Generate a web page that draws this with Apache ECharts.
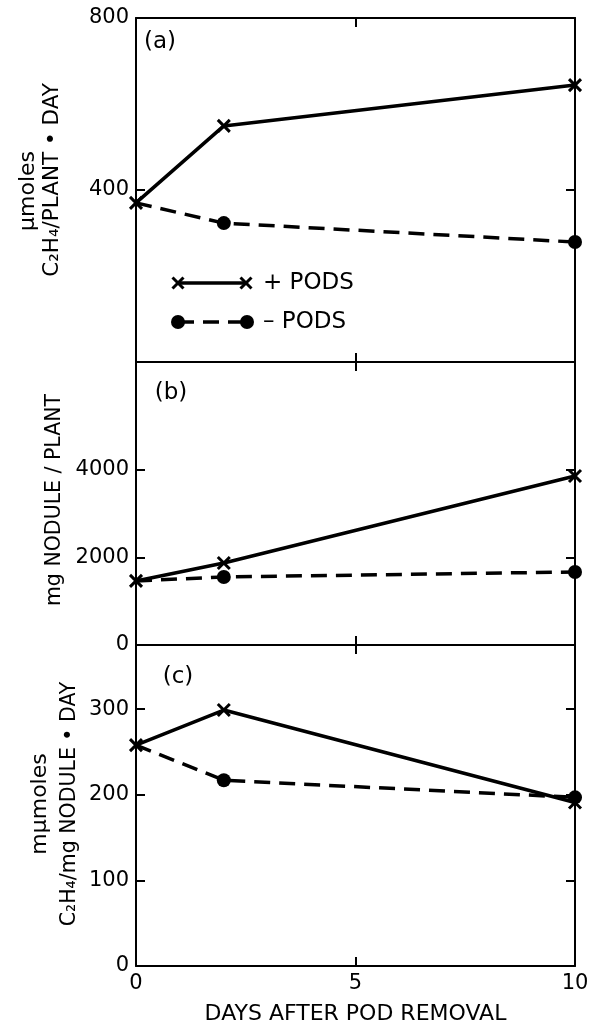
<!DOCTYPE html>
<html>
<head>
<meta charset="utf-8">
<script src="https://cdn.jsdelivr.net/npm/echarts@6/dist/echarts.min.js"></script>
<style>
html,body{margin:0;padding:0;background:#fff;}
#chart{width:590px;height:1025px;}
</style>
</head>
<body>
<div id="chart"></div>
<script>
// ---- data ----
var days = [0, 2, 10];
var aPlus = [370, 549, 644];
var aMinus = [370, 323, 279];
var bPlus = [1465, 1875, 3865];
var bMinus = [1465, 1555, 1670];
var cPlus = [258, 299, 191];
var cMinus = [258, 217, 197];
var xTicks = [0, 5, 10];
var aTicks = [400, 800];
var bTicks = [0, 2000, 4000];
var cTicks = [0, 100, 200, 300];
var seriesNames = ['+ PODS', '\u2013 PODS'];

var FONT = 'DejaVu Sans';
var X_PATH = 'path://M0,0L10,10M0,10L10,0';

function pts(vals, hideFirst) {
  return vals.map(function (v, i) {
    var d = { value: [days[i], v] };
    if (hideFirst && i === 0) d.symbol = 'none';
    return d;
  });
}

var grids = [
  { left: 136, right: 15, top: 18, height: 344, outerBoundsMode: 'none', containLabel: false },
  { left: 136, right: 15, top: 362, height: 283, outerBoundsMode: 'none', containLabel: false },
  { left: 136, right: 15, top: 645, height: 321, outerBoundsMode: 'none', containLabel: false }
];
var yCfg = [
  { min: 0, max: 800, ticks: aTicks },
  { min: 0, max: 6470, ticks: bTicks },
  { min: 0, max: 375, ticks: cTicks }
];
var plusData = [aPlus, bPlus, cPlus];
var minusData = [aMinus, bMinus, cMinus];

var axisLine = { show: true, onZero: false, lineStyle: { color: '#000', width: 2 } };
var tickStyle = { color: '#000', width: 2 };
function plain(v) { return String(v); }

var xAxes = [], yAxes = [], series = [];
for (var g = 0; g < 3; g++) {
  xAxes.push({
    type: 'value', gridIndex: g, position: 'bottom', min: 0, max: 10, interval: 5,
    axisLine: axisLine,
    axisTick: { show: true, inside: true, length: 9, lineStyle: tickStyle },
    axisLabel: { show: g === 2, color: '#000', fontFamily: FONT, fontSize: 21, margin: 7, formatter: plain },
    splitLine: { show: false },
    name: g === 2 ? 'DAYS AFTER POD REMOVAL' : '',
    nameLocation: 'middle', nameGap: 37, nameMoveOverlap: false,
    nameTextStyle: { color: '#000', fontFamily: FONT, fontSize: 22 }
  });
  xAxes.push({
    type: 'value', gridIndex: g, position: 'top', min: 0, max: 10, interval: 5,
    axisLine: axisLine,
    axisTick: { show: true, inside: true, length: 9, lineStyle: tickStyle },
    axisLabel: { show: false },
    splitLine: { show: false }
  });
  var yc = yCfg[g];
  yAxes.push({
    type: 'value', gridIndex: g, position: 'left', min: yc.min, max: yc.max,
    axisLine: axisLine,
    axisTick: { show: true, inside: true, length: 9, lineStyle: tickStyle, customValues: yc.ticks },
    axisLabel: { show: true, color: '#000', fontFamily: FONT, fontSize: 21, margin: 7, customValues: yc.ticks, formatter: plain },
    splitLine: { show: false }
  });
  yAxes.push({
    type: 'value', gridIndex: g, position: 'right', min: yc.min, max: yc.max,
    axisLine: axisLine,
    axisTick: { show: true, inside: true, length: 9, lineStyle: tickStyle, customValues: yc.ticks },
    axisLabel: { show: false },
    splitLine: { show: false }
  });
  series.push({
    name: seriesNames[1], type: 'line', xAxisIndex: g * 2, yAxisIndex: g * 2,
    data: pts(minusData[g], true),
    symbol: 'circle', symbolSize: 14, showAllSymbol: true,
    lineStyle: { color: '#000', width: 3.5, type: [16, 9] },
    itemStyle: { color: '#000', borderWidth: 0 },
    z: 3, animation: false, silent: true
  });
  series.push({
    name: seriesNames[0], type: 'line', xAxisIndex: g * 2, yAxisIndex: g * 2,
    data: pts(plusData[g], false),
    symbol: X_PATH, symbolSize: 12, showAllSymbol: true,
    lineStyle: { color: '#000', width: 3.5 },
    itemStyle: { color: '#000', borderColor: '#000', borderWidth: 3 },
    z: 4, animation: false, silent: true
  });
}

function txt(text, x, y, size, rot) {
  return {
    type: 'text', x: x, y: y, rotation: rot ? Math.PI / 2 : 0,
    style: { text: text, x: 0, y: 0, align: 'center', verticalAlign: 'middle',
      fill: '#000', font: size + 'px "' + FONT + '"' }
  };
}
function xMark(cx, cy, r) {
  return [
    { type: 'line', shape: { x1: cx - r, y1: cy - r, x2: cx + r, y2: cy + r }, style: { stroke: '#000', lineWidth: 3 } },
    { type: 'line', shape: { x1: cx - r, y1: cy + r, x2: cx + r, y2: cy - r }, style: { stroke: '#000', lineWidth: 3 } }
  ];
}

var graphics = [
  txt('(a)', 160, 42, 23),
  txt('(b)', 171, 393, 23),
  txt('(c)', 178, 677, 23),
  txt('\u03bcmoles', 28, 191, 22, true),
  txt('C\u2082H\u2084/PLANT \u2022 DAY', 52, 180, 21.5, true),
  txt('mg NODULE / PLANT', 55, 500, 20.5, true),
  txt('m\u03bcmoles', 40, 804, 22, true),
  txt('C\u2082H\u2084/mg NODULE \u2022 DAY', 70, 804, 20.5, true),
  // legend
  { type: 'line', shape: { x1: 178, y1: 283, x2: 246, y2: 283 }, style: { stroke: '#000', lineWidth: 3.5 } },
  { type: 'line', shape: { x1: 178, y1: 322, x2: 247, y2: 322 }, style: { stroke: '#000', lineWidth: 3.5, lineDash: [16, 9] } },
  { type: 'circle', shape: { cx: 178, cy: 322, r: 7 }, style: { fill: '#000' } },
  { type: 'circle', shape: { cx: 247, cy: 322, r: 7 }, style: { fill: '#000' } },
  { type: 'text', x: 263, y: 283, style: { text: seriesNames[0], align: 'left', verticalAlign: 'middle', fill: '#000', font: '23px "' + FONT + '"' } },
  { type: 'text', x: 263, y: 322, style: { text: seriesNames[1], align: 'left', verticalAlign: 'middle', fill: '#000', font: '23px "' + FONT + '"' } }
].concat(xMark(178, 283, 5.5), xMark(246, 283, 5.5));

var chart = echarts.init(document.getElementById('chart'), null, { renderer: 'canvas' });
chart.setOption({
  backgroundColor: '#fff',
  animation: false,
  grid: grids,
  xAxis: xAxes,
  yAxis: yAxes,
  series: series,
  graphic: graphics
});
</script>
</body>
</html>
